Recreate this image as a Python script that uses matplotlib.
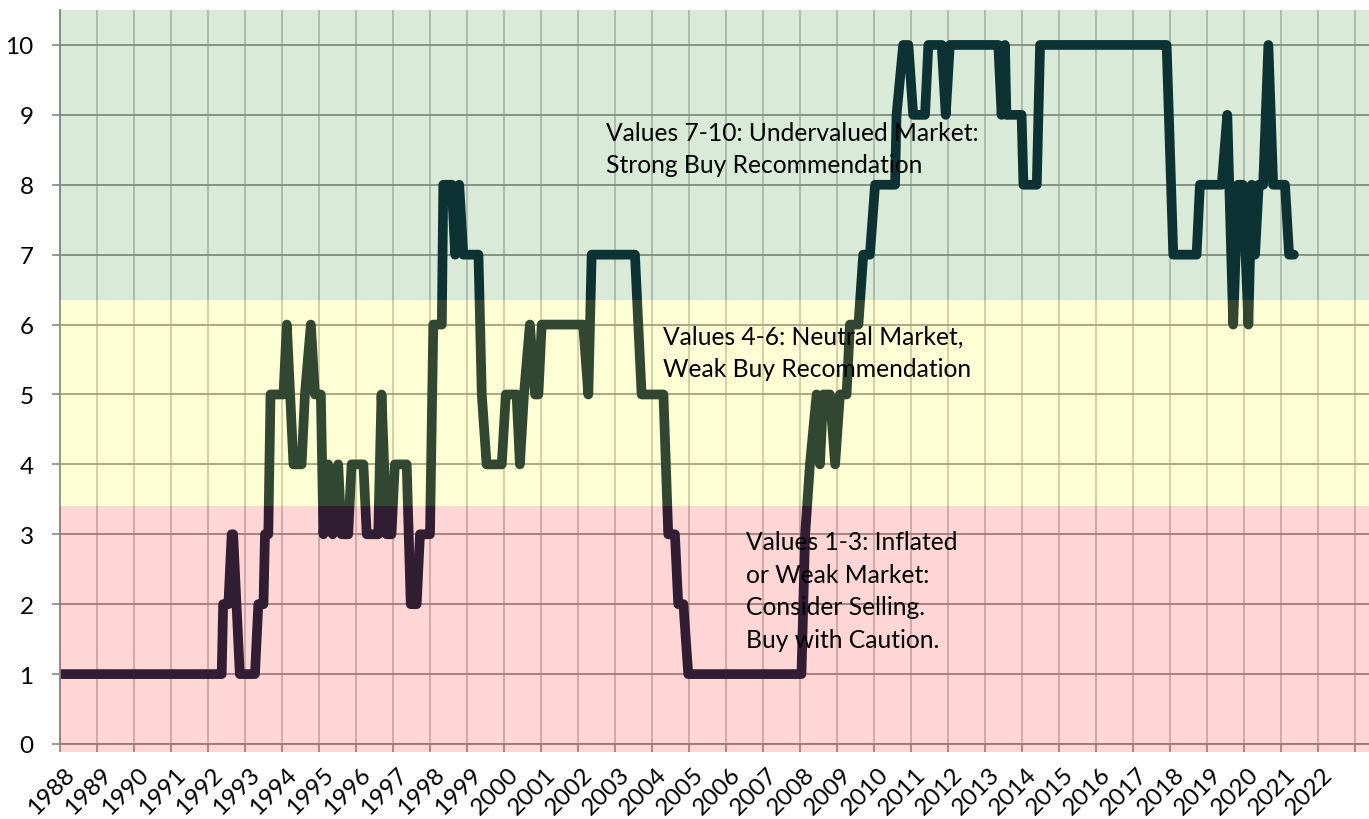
import matplotlib
matplotlib.use('Agg')
import matplotlib.pyplot as plt
import matplotlib.transforms as mtransforms

# monthly-ish score readings (year fraction, score)
years = [1988.0, 1992.37, 1992.41, 1992.55, 1992.64, 1992.68, 1992.86, 1993.27, 1993.36, 1993.50,
         1993.54, 1993.63, 1993.69, 1994.04, 1994.13, 1994.31, 1994.53, 1994.62, 1994.78, 1994.89,
         1995.05, 1995.12, 1995.25, 1995.37, 1995.52, 1995.61, 1995.79, 1995.88, 1996.20, 1996.29,
         1996.60, 1996.69, 1996.83, 1996.96, 1997.05, 1997.37, 1997.48, 1997.64, 1997.73, 1998.0,
         1998.09, 1998.32, 1998.36, 1998.59, 1998.68, 1998.79, 1998.90, 1999.31, 1999.40, 1999.53,
         1999.94, 2000.05, 2000.34, 2000.43, 2000.54, 2000.70, 2000.84, 2000.93, 2001.02, 2002.14,
         2002.28, 2002.37, 2003.54, 2003.72, 2004.31, 2004.44, 2004.62, 2004.71, 2004.85, 2004.98,
         2008.04, 2008.14, 2008.27, 2008.45, 2008.54, 2008.63, 2008.81, 2008.95, 2009.08, 2009.26,
         2009.35, 2009.58, 2009.71, 2009.89, 2010.03, 2010.57, 2010.61, 2010.79, 2010.93, 2011.06,
         2011.38, 2011.47, 2011.83, 2011.94, 2012.05, 2013.36, 2013.45, 2013.54, 2013.58, 2013.99,
         2014.04, 2014.40, 2014.49, 2017.91, 2018.09, 2018.72, 2018.81, 2019.40, 2019.55, 2019.71,
         2019.84, 2019.97, 2020.12, 2020.21, 2020.30, 2020.40, 2020.52, 2020.66, 2020.79, 2021.11,
         2021.22, 2021.35]
scores = [1, 1, 2, 2, 3, 3, 1, 1, 2, 2,
          3, 3, 5, 5, 6, 4, 4, 5, 6, 5,
          5, 3, 4, 3, 4, 3, 3, 4, 4, 3,
          3, 5, 3, 3, 4, 4, 2, 2, 3, 3,
          6, 6, 8, 8, 7, 8, 7, 7, 5, 4,
          4, 5, 5, 4, 5, 6, 5, 5, 6, 6,
          5, 7, 7, 5, 5, 3, 3, 2, 2, 1,
          1, 3, 4, 5, 4, 5, 5, 4, 5, 5,
          6, 6, 7, 7, 8, 8, 9, 10, 10, 9,
          9, 10, 10, 9, 10, 10, 9, 10, 9, 9,
          8, 8, 10, 10, 7, 7, 8, 8, 9, 6,
          8, 8, 6, 8, 7, 8, 8, 10, 8, 8,
          7, 7]

tick_years = list(range(1988, 2024))
tick_labels = [str(y) for y in range(1988, 2023)] + ['']

band_low = [-0.11, 3.4, 6.35]
band_high = [3.4, 6.35, 10.5]
band_colors = ['#ff3232', '#ffff32', '#41963c']

notes = ['Values 7-10: Undervalued Market:\nStrong Buy Recommendation',
         'Values 4-6: Neutral Market,\nWeak Buy Recommendation',
         'Values 1-3: Inflated\nor Weak Market:\nConsider Selling.\nBuy with Caution.']
note_x = [2002.76, 2004.30, 2006.54]
note_y = [8.18, 5.26, 1.39]  # baseline of last line

plt.rcParams['font.family'] = ['Lato', 'DejaVu Sans']

fig = plt.figure(figsize=(13.69, 8.2), dpi=100)
ax = fig.add_axes([60 / 1369, 75 / 820, 1 - 60 / 1369, 734 / 820])

ax.plot(years, scores, color='#001a33', lw=7, solid_capstyle='round',
        solid_joinstyle='round', zorder=2)

for lo, hi, c in zip(band_low, band_high, band_colors):
    ax.axhspan(lo, hi, color=c, alpha=0.2, lw=0, zorder=3, clip_on=False)

for t, x, y in zip(notes, note_x, note_y):
    ax.text(x, y, t, fontsize=17.7, va='baseline', ha='left', linespacing=1.5,
            color='black', zorder=5)

ax.set_xlim(1988, 2023.38)
ax.set_ylim(0, 10.5)
ax.set_xticks(tick_years)
ax.set_xticklabels(tick_labels, rotation=45, ha='right', va='top', rotation_mode='anchor')
ax.set_yticks(range(0, 11))
ax.tick_params(axis='both', direction='out', length=6, width=1.2, color='#868686',
               labelsize=17.5)
ax.tick_params(axis='x', pad=8)
ax.tick_params(axis='y', pad=13)
offset = mtransforms.ScaledTranslation(4 / 100, 0, fig.dpi_scale_trans)
for lab in ax.get_xticklabels():
    lab.set_transform(lab.get_transform() + offset)

ax.set_axisbelow(True)
ax.grid(axis='x', color='#c2c2c2', lw=1.3)
ax.grid(axis='y', color='#8e8e8e', lw=1.3)

for s in ['top', 'right']:
    ax.spines[s].set_visible(False)
for s in ['left', 'bottom']:
    ax.spines[s].set_color('#868686')
    ax.spines[s].set_linewidth(1.3)

fig.savefig('out.png', dpi=100, facecolor='white')
